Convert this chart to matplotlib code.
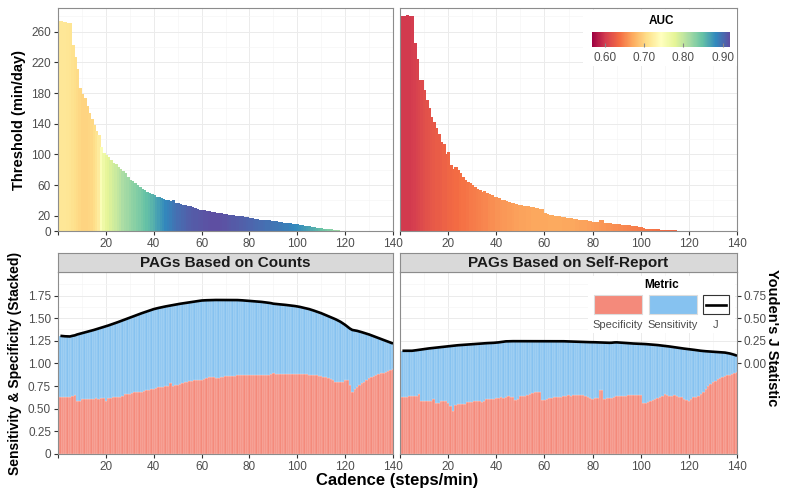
import numpy as np
import matplotlib
matplotlib.use('Agg')
import matplotlib.pyplot as plt
from matplotlib.colors import Normalize
from matplotlib.cm import ScalarMappable
from matplotlib.patches import Rectangle
from matplotlib.lines import Line2D

plt.rcParams['font.family'] = ['Liberation Sans', 'DejaVu Sans']

# ---------------- data ----------------
cadence = np.arange(1, 141)

thr_counts = [
    274, 273, 273, 272, 271, 243, 227, 212, 186, 179,
    173, 163, 154, 146, 138, 130, 125, 110, 102, 99,
    96, 92, 89, 87, 84, 81, 78, 76, 71, 67,
    65, 62, 60, 58, 55, 53, 51, 50, 48, 47,
    45, 44, 43, 42, 41, 40, 39, 40, 37, 36,
    35, 34, 34, 33, 32, 31, 30, 29, 28, 27,
    27, 26, 26, 25, 25, 24, 23, 23, 22, 22,
    21, 21, 21, 20, 20, 19, 19, 18, 18, 17,
    17, 16, 16, 15, 15, 14, 14, 14, 13, 13,
    13, 12, 12, 11, 10.5, 10, 10, 9.5, 9, 9,
    8, 7.5, 7, 6.5, 6, 5.5, 5, 4.5, 4, 3.5,
    3, 2.5, 2.2, 2, 1.7, 1.3, 1, 0.6, 0.3, 0.1,
    0, 0, 0, 0, 0, 0, 0, 0, 0, 0,
    0, 0, 0, 0, 0, 0, 0, 0, 0, 0]

auc_counts = [
    0.716, 0.716, 0.716, 0.715, 0.714, 0.711, 0.708, 0.705, 0.703, 0.700,
    0.700, 0.700, 0.701, 0.703, 0.706, 0.712, 0.720, 0.750, 0.765, 0.775,
    0.780, 0.785, 0.790, 0.795, 0.800, 0.806, 0.812, 0.816, 0.820, 0.824,
    0.827, 0.830, 0.834, 0.837, 0.841, 0.845, 0.849, 0.853, 0.857, 0.861,
    0.866, 0.870, 0.875, 0.879, 0.884, 0.887, 0.890, 0.893, 0.896, 0.899,
    0.901, 0.903, 0.905, 0.907, 0.909, 0.910, 0.911, 0.912, 0.913, 0.914,
    0.915, 0.916, 0.917, 0.918, 0.918, 0.918, 0.918, 0.917, 0.916, 0.915,
    0.914, 0.913, 0.912, 0.911, 0.910, 0.909, 0.908, 0.907, 0.906, 0.905,
    0.904, 0.903, 0.902, 0.901, 0.900, 0.899, 0.898, 0.897, 0.896, 0.895,
    0.894, 0.893, 0.892, 0.891, 0.890, 0.889, 0.887, 0.885, 0.883, 0.881,
    0.879, 0.876, 0.873, 0.870, 0.867, 0.864, 0.860, 0.856, 0.852, 0.848,
    0.844, 0.840, 0.836, 0.832, 0.828, 0.824, 0.820, 0.816, 0.812, 0.808,
    np.nan, np.nan, np.nan, np.nan, np.nan, np.nan, np.nan, np.nan, np.nan, np.nan,
    np.nan, np.nan, np.nan, np.nan, np.nan, np.nan, np.nan, np.nan, np.nan, np.nan]

thr_self = [
    280, 280, 282, 280, 280, 245, 225, 197, 197, 184,
    171, 160, 149, 142, 134, 127, 116, 114, 101, 103,
    86, 81, 84, 79, 76, 71, 66, 64, 63, 60,
    58, 55, 54, 51, 52, 49, 48, 47, 45, 44,
    43, 41, 40, 39, 38, 37, 36, 35, 34, 34,
    33, 32, 32, 31, 31, 30, 30, 29, 29, 23,
    22, 21, 21, 20, 19, 19, 18, 18, 17, 17,
    17, 16, 16, 15, 15, 14, 14, 13, 13, 12,
    12, 12, 14, 14, 10.5, 10, 10, 9.5, 9, 9,
    8.5, 8, 8, 7.5, 7.4, 7, 6.5, 6, 5.5, 5,
    4, 3, 2.8, 2.6, 2.4, 2.2, 2, 1.9, 1.8, 1.7,
    1.4, 1.2, 1, 0.7, 0.4, 0.2, 0.1, 0, 0, 0,
    0, 0, 0, 0, 0, 0, 0, 0, 0, 0,
    0, 0, 0, 0, 0, 0, 0, 0, 0, 0]

auc_self = [
    0.600, 0.600, 0.600, 0.601, 0.602, 0.604, 0.606, 0.609, 0.612, 0.615,
    0.617, 0.619, 0.621, 0.623, 0.625, 0.626, 0.627, 0.629, 0.630, 0.632,
    0.633, 0.635, 0.636, 0.637, 0.639, 0.640, 0.641, 0.642, 0.644, 0.645,
    0.646, 0.647, 0.649, 0.650, 0.651, 0.652, 0.654, 0.655, 0.656, 0.658,
    0.659, 0.660, 0.661, 0.661, 0.662, 0.663, 0.664, 0.665, 0.665, 0.666,
    0.667, 0.667, 0.668, 0.668, 0.669, 0.669, 0.669, 0.670, 0.670, 0.670,
    0.670, 0.671, 0.671, 0.671, 0.671, 0.671, 0.671, 0.670, 0.670, 0.670,
    0.669, 0.669, 0.668, 0.668, 0.667, 0.667, 0.666, 0.665, 0.665, 0.664,
    0.663, 0.662, 0.661, 0.660, 0.660, 0.659, 0.658, 0.657, 0.656, 0.655,
    0.654, 0.653, 0.652, 0.651, 0.650, 0.649, 0.648, 0.647, 0.646, 0.645,
    0.644, 0.643, 0.642, 0.642, 0.641, 0.640, 0.639, 0.638, 0.638, 0.637,
    0.636, 0.635, 0.635, 0.634, 0.633, 0.633, 0.632, np.nan, np.nan, np.nan,
    np.nan, np.nan, np.nan, np.nan, np.nan, np.nan, np.nan, np.nan, np.nan, np.nan,
    np.nan, np.nan, np.nan, np.nan, np.nan, np.nan, np.nan, np.nan, np.nan, np.nan]

spec_counts = [
    0.630, 0.630, 0.630, 0.630, 0.635, 0.640, 0.647, 0.580, 0.585, 0.610,
    0.610, 0.610, 0.610, 0.612, 0.610, 0.615, 0.610, 0.618, 0.615, 0.590,
    0.620, 0.620, 0.625, 0.625, 0.630, 0.630, 0.643, 0.660, 0.660, 0.665,
    0.670, 0.680, 0.680, 0.685, 0.690, 0.700, 0.710, 0.710, 0.715, 0.720,
    0.725, 0.735, 0.735, 0.740, 0.746, 0.750, 0.780, 0.750, 0.760, 0.765,
    0.770, 0.780, 0.790, 0.800, 0.810, 0.810, 0.815, 0.816, 0.820, 0.820,
    0.825, 0.840, 0.845, 0.845, 0.845, 0.840, 0.840, 0.845, 0.850, 0.856,
    0.860, 0.864, 0.860, 0.866, 0.868, 0.870, 0.872, 0.875, 0.875, 0.875,
    0.876, 0.875, 0.877, 0.874, 0.876, 0.874, 0.870, 0.868, 0.880, 0.890,
    0.888, 0.885, 0.887, 0.884, 0.886, 0.882, 0.884, 0.880, 0.882, 0.882,
    0.885, 0.888, 0.880, 0.878, 0.875, 0.872, 0.870, 0.868, 0.860, 0.856,
    0.850, 0.845, 0.840, 0.830, 0.815, 0.800, 0.795, 0.790, 0.800, 0.820,
    0.815, 0.765, 0.690, 0.720, 0.745, 0.765, 0.785, 0.800, 0.820, 0.840,
    0.850, 0.864, 0.873, 0.883, 0.893, 0.900, 0.910, 0.920, 0.930, 0.940]

youden_counts = [
    0.305, 0.302, 0.300, 0.299, 0.298, 0.305, 0.310, 0.320, 0.327, 0.335,
    0.342, 0.349, 0.356, 0.363, 0.370, 0.378, 0.386, 0.394, 0.402, 0.410,
    0.419, 0.428, 0.437, 0.446, 0.456, 0.466, 0.476, 0.486, 0.496, 0.507,
    0.517, 0.527, 0.536, 0.545, 0.555, 0.564, 0.573, 0.582, 0.591, 0.600,
    0.607, 0.613, 0.619, 0.625, 0.630, 0.635, 0.640, 0.645, 0.650, 0.654,
    0.659, 0.663, 0.667, 0.672, 0.676, 0.680, 0.684, 0.688, 0.691, 0.695,
    0.697, 0.698, 0.699, 0.700, 0.700, 0.701, 0.701, 0.702, 0.702, 0.702,
    0.702, 0.701, 0.701, 0.700, 0.700, 0.699, 0.697, 0.695, 0.693, 0.690,
    0.688, 0.686, 0.684, 0.682, 0.680, 0.677, 0.673, 0.670, 0.666, 0.660,
    0.657, 0.655, 0.652, 0.650, 0.647, 0.644, 0.641, 0.638, 0.634, 0.630,
    0.625, 0.619, 0.613, 0.607, 0.600, 0.592, 0.583, 0.574, 0.565, 0.555,
    0.544, 0.533, 0.522, 0.511, 0.500, 0.488, 0.475, 0.461, 0.444, 0.426,
    0.405, 0.385, 0.370, 0.365, 0.360, 0.353, 0.345, 0.337, 0.329, 0.320,
    0.310, 0.300, 0.290, 0.280, 0.270, 0.260, 0.250, 0.240, 0.230, 0.220]

spec_self = [
    0.625, 0.625, 0.625, 0.636, 0.636, 0.636, 0.636, 0.660, 0.580, 0.580,
    0.590, 0.590, 0.590, 0.610, 0.560, 0.560, 0.580, 0.580, 0.580, 0.560,
    0.526, 0.470, 0.544, 0.550, 0.550, 0.550, 0.550, 0.570, 0.570, 0.570,
    0.580, 0.580, 0.580, 0.575, 0.580, 0.610, 0.610, 0.610, 0.605, 0.620,
    0.615, 0.625, 0.620, 0.630, 0.636, 0.630, 0.625, 0.600, 0.610, 0.636,
    0.640, 0.645, 0.654, 0.660, 0.670, 0.680, 0.690, 0.690, 0.600, 0.600,
    0.605, 0.620, 0.620, 0.625, 0.625, 0.630, 0.635, 0.636, 0.640, 0.647,
    0.645, 0.647, 0.650, 0.652, 0.654, 0.650, 0.640, 0.625, 0.615, 0.610,
    0.615, 0.620, 0.710, 0.710, 0.610, 0.615, 0.620, 0.620, 0.630, 0.636,
    0.640, 0.636, 0.640, 0.645, 0.647, 0.650, 0.652, 0.654, 0.652, 0.654,
    0.5625, 0.565, 0.575, 0.580, 0.600, 0.610, 0.620, 0.625, 0.640, 0.660,
    0.650, 0.636, 0.645, 0.654, 0.640, 0.625, 0.630, 0.610, 0.600, 0.590,
    0.610, 0.625, 0.630, 0.636, 0.660, 0.690, 0.720, 0.746, 0.770, 0.794,
    0.810, 0.825, 0.838, 0.848, 0.858, 0.868, 0.873, 0.882, 0.895, 0.910]

youden_self = [
    0.140, 0.140, 0.140, 0.140, 0.140, 0.143, 0.147, 0.151, 0.155, 0.160,
    0.163, 0.166, 0.169, 0.172, 0.175, 0.178, 0.181, 0.184, 0.187, 0.190,
    0.193, 0.196, 0.198, 0.201, 0.203, 0.205, 0.207, 0.209, 0.211, 0.213,
    0.215, 0.217, 0.219, 0.221, 0.222, 0.224, 0.225, 0.227, 0.228, 0.230,
    0.233, 0.237, 0.241, 0.244, 0.245, 0.245, 0.246, 0.246, 0.246, 0.246,
    0.246, 0.246, 0.246, 0.246, 0.246, 0.246, 0.246, 0.246, 0.246, 0.246,
    0.246, 0.246, 0.246, 0.246, 0.246, 0.246, 0.246, 0.245, 0.244, 0.243,
    0.242, 0.241, 0.240, 0.239, 0.238, 0.237, 0.236, 0.236, 0.235, 0.235,
    0.234, 0.233, 0.232, 0.231, 0.230, 0.229, 0.228, 0.229, 0.232, 0.233,
    0.231, 0.229, 0.227, 0.225, 0.223, 0.221, 0.220, 0.219, 0.218, 0.217,
    0.216, 0.214, 0.212, 0.210, 0.208, 0.206, 0.203, 0.200, 0.197, 0.195,
    0.191, 0.187, 0.183, 0.179, 0.175, 0.171, 0.167, 0.164, 0.161, 0.158,
    0.155, 0.151, 0.147, 0.143, 0.140, 0.137, 0.135, 0.133, 0.131, 0.130,
    0.128, 0.126, 0.124, 0.122, 0.120, 0.115, 0.110, 0.103, 0.095, 0.085]

panel_titles = ["PAGs Based on Counts", "PAGs Based on Self-Report"]
x_ticks = [0, 20, 40, 60, 80, 100, 120, 140]
x_ticklabels = ["", "20", "40", "60", "80", "100", "120", "140"]
thr_ticks = [0, 20, 60, 100, 140, 180, 220, 260]
sens_ticks = [0, 0.25, 0.5, 0.75, 1.0, 1.25, 1.5, 1.75]
j_ticks = [0.0, 0.25, 0.5, 0.75]
auc_ticks = [0.60, 0.70, 0.80, 0.90]
metric_labels = ["Specificity", "Sensitivity", "J"]

# ---------------- style ----------------
W, H = 785, 495
SPEC_C = '#F48A7B'
SENS_C = '#86C2F0'
BORDER = '#8C8C8C'
TXT = '#4D4D4D'
MAJ = '#EBEBEB'
MIN = '#F5F5F5'
norm = Normalize(vmin=0.567, vmax=0.919)
cmap = plt.get_cmap('Spectral')

fig = plt.figure(figsize=(W / 100, H / 100), dpi=100)


def ax_at(x0, y0, x1, y1):
    return fig.add_axes([x0 / W, 1 - y1 / H, (x1 - x0) / W, (y1 - y0) / H])


def style(ax, ylim, yticks, ylabels, yminor):
    ax.set_xlim(0, 140)
    ax.set_ylim(*ylim)
    ax.set_xticks(x_ticks)
    ax.set_xticklabels(x_ticklabels)
    ax.set_xticks(np.arange(10, 140, 20), minor=True)
    ax.set_yticks(yticks)
    ax.set_yticks(yminor, minor=True)
    if ylabels is None:
        ax.set_yticklabels([])
        ax.tick_params(axis='y', which='both', length=0)
    else:
        ax.set_yticklabels(ylabels)
        ax.tick_params(axis='y', which='major', length=3, color='#333333',
                       labelsize=8.5, labelcolor=TXT, pad=2)
        ax.tick_params(axis='y', which='minor', length=0)
    ax.tick_params(axis='x', which='major', length=3, color='#333333',
                   labelsize=8.5, labelcolor=TXT, pad=2)
    ax.tick_params(axis='x', which='minor', length=0)
    ax.grid(True, which='major', color=MAJ, lw=0.7)
    ax.grid(True, which='minor', color=MIN, lw=0.5)
    ax.set_axisbelow(True)
    for s in ax.spines.values():
        s.set_color(BORDER)
        s.set_linewidth(0.8)


# ---------------- top panels ----------------
top_axes = [ax_at(58, 8, 393, 231), ax_at(400, 8, 737, 231)]
for k, (ax, thr, auc) in enumerate(zip(top_axes, [thr_counts, thr_self],
                                        [auc_counts, auc_self])):
    thr = np.asarray(thr, float)
    auc = np.asarray(auc, float)
    m = thr > 0
    cols = cmap(norm(auc[m]))
    ax.bar(cadence[m], thr[m], width=1.0, color=cols, edgecolor=cols,
           linewidth=0.6, antialiased=False, zorder=2)
    style(ax, (0, 291), thr_ticks,
          [str(t) for t in thr_ticks] if k == 0 else None,
          np.arange(40, 300, 40))

top_axes[0].set_ylabel("Threshold (min/day)", fontsize=10.5,
                       fontweight='bold', labelpad=4)

# colorbar legend inside top-right
axr = top_axes[1]
axr.add_patch(Rectangle(((583 - 400) / 337, 1 - (66 - 8) / 223),
                        (737 - 583) / 337, (66 - 10) / 223,
                        transform=axr.transAxes, facecolor='white',
                        edgecolor='none', zorder=3))
axr.text((661 - 400) / 337, 1 - (21.5 - 8) / 223, "AUC",
         transform=axr.transAxes, ha='center', va='center',
         fontsize=8.5, fontweight='bold', zorder=5)
cax = ax_at(592, 32, 730, 46.5)
sm = ScalarMappable(norm=norm, cmap=cmap)
cb = fig.colorbar(sm, cax=cax, orientation='horizontal')
cb.set_ticks(auc_ticks)
cb.set_ticklabels([f"{t:.2f}" for t in auc_ticks])
cb.outline.set_visible(False)
cax.tick_params(axis='x', length=3, direction='in', color='#888888',
                labelsize=8.5, labelcolor=TXT, pad=4)

# ---------------- bottom panels ----------------
bot_axes = [ax_at(58, 272, 393, 454), ax_at(400, 272, 737, 454)]
for k, (ax, spec, yj) in enumerate(zip(bot_axes, [spec_counts, spec_self],
                                       [youden_counts, youden_self])):
    spec = np.asarray(spec, float)
    yj = np.asarray(yj, float)
    total = yj + 1.0
    sens = total - spec
    ax.bar(cadence, spec, width=1.0, color=SPEC_C,
           edgecolor=(1, 1, 1, 0.45), linewidth=0.35, zorder=2)
    ax.bar(cadence, sens, bottom=spec, width=1.0, color=SENS_C,
           edgecolor=(1, 1, 1, 0.45), linewidth=0.35, zorder=2)
    ax.plot(cadence, total, color='black', lw=1.9, zorder=4,
            solid_capstyle='butt')
    style(ax, (0, 2.01), sens_ticks,
          (["0"] + [f"{t:.2f}" for t in sens_ticks[1:]]) if k == 0 else None,
          np.arange(0.125, 2.0, 0.25))
    # strip
    x0 = 58 if k == 0 else 400
    x1 = 393 if k == 0 else 737
    sax = ax_at(x0, 253, x1, 272)
    sax.set_xticks([])
    sax.set_yticks([])
    sax.set_facecolor('#D9D9D9')
    for s in sax.spines.values():
        s.set_color(BORDER)
        s.set_linewidth(0.8)
    sax.text(0.5, 0.47, panel_titles[k], transform=sax.transAxes,
             ha='center', va='center', fontsize=11, fontweight='bold',
             color='#1A1A1A')

bot_axes[0].set_ylabel("Sensitivity & Specificity (Stacked)", fontsize=10,
                       fontweight='bold', labelpad=4)

# secondary axis for Youden's J
axb = bot_axes[1]
sec = axb.secondary_yaxis('right', functions=(lambda v: v - 1.0,
                                              lambda v: v + 1.0))
sec.set_yticks(j_ticks)
sec.set_yticklabels([f"{t:.2f}" for t in j_ticks])
sec.tick_params(length=3, color='#333333', labelsize=8.5,
                labelcolor=TXT, pad=2)
sec.spines['right'].set_visible(False)
fig.text(772 / W, 1 - 338 / H, "Youden's J Statistic", rotation=270,
         ha='center', va='center', fontsize=10.5, fontweight='bold')

# Metric legend in bottom-right panel
def fx(px):
    return (px - 400) / 337


def fy(py):
    return 1 - (py - 272) / 182


axb.add_patch(Rectangle((fx(588), fy(333)), fx(735) - fx(588),
                        fy(276) - fy(333), transform=axb.transAxes,
                        facecolor='white', edgecolor='none', zorder=5))
axb.text(fx(661.5), fy(284.5), "Metric", transform=axb.transAxes,
         ha='center', va='center', fontsize=8.5, fontweight='bold', zorder=6)
keys = [(594, 642, SPEC_C, 618), (649, 697, SENS_C, 673), (703, 729, 'white', 716)]
for (a, b, col, cx), lab in zip(keys, metric_labels):
    axb.add_patch(Rectangle((fx(a), fy(314)), fx(b) - fx(a), fy(295) - fy(314),
                            transform=axb.transAxes, facecolor=col,
                            edgecolor='#DDDDDD' if col != 'white' else '#333333',
                            linewidth=0.8, zorder=6))
    axb.text(fx(cx), fy(325), lab, transform=axb.transAxes, ha='center',
             va='center', fontsize=8, color=TXT, zorder=6)
axb.add_line(Line2D([fx(706), fx(726)], [fy(304.5), fy(304.5)],
                    transform=axb.transAxes, color='black', lw=1.9, zorder=7))

fig.text(397 / W, 1 - 480 / H, "Cadence (steps/min)", ha='center',
         va='center', fontsize=12, fontweight='bold')

fig.savefig('out.png', dpi=100)
